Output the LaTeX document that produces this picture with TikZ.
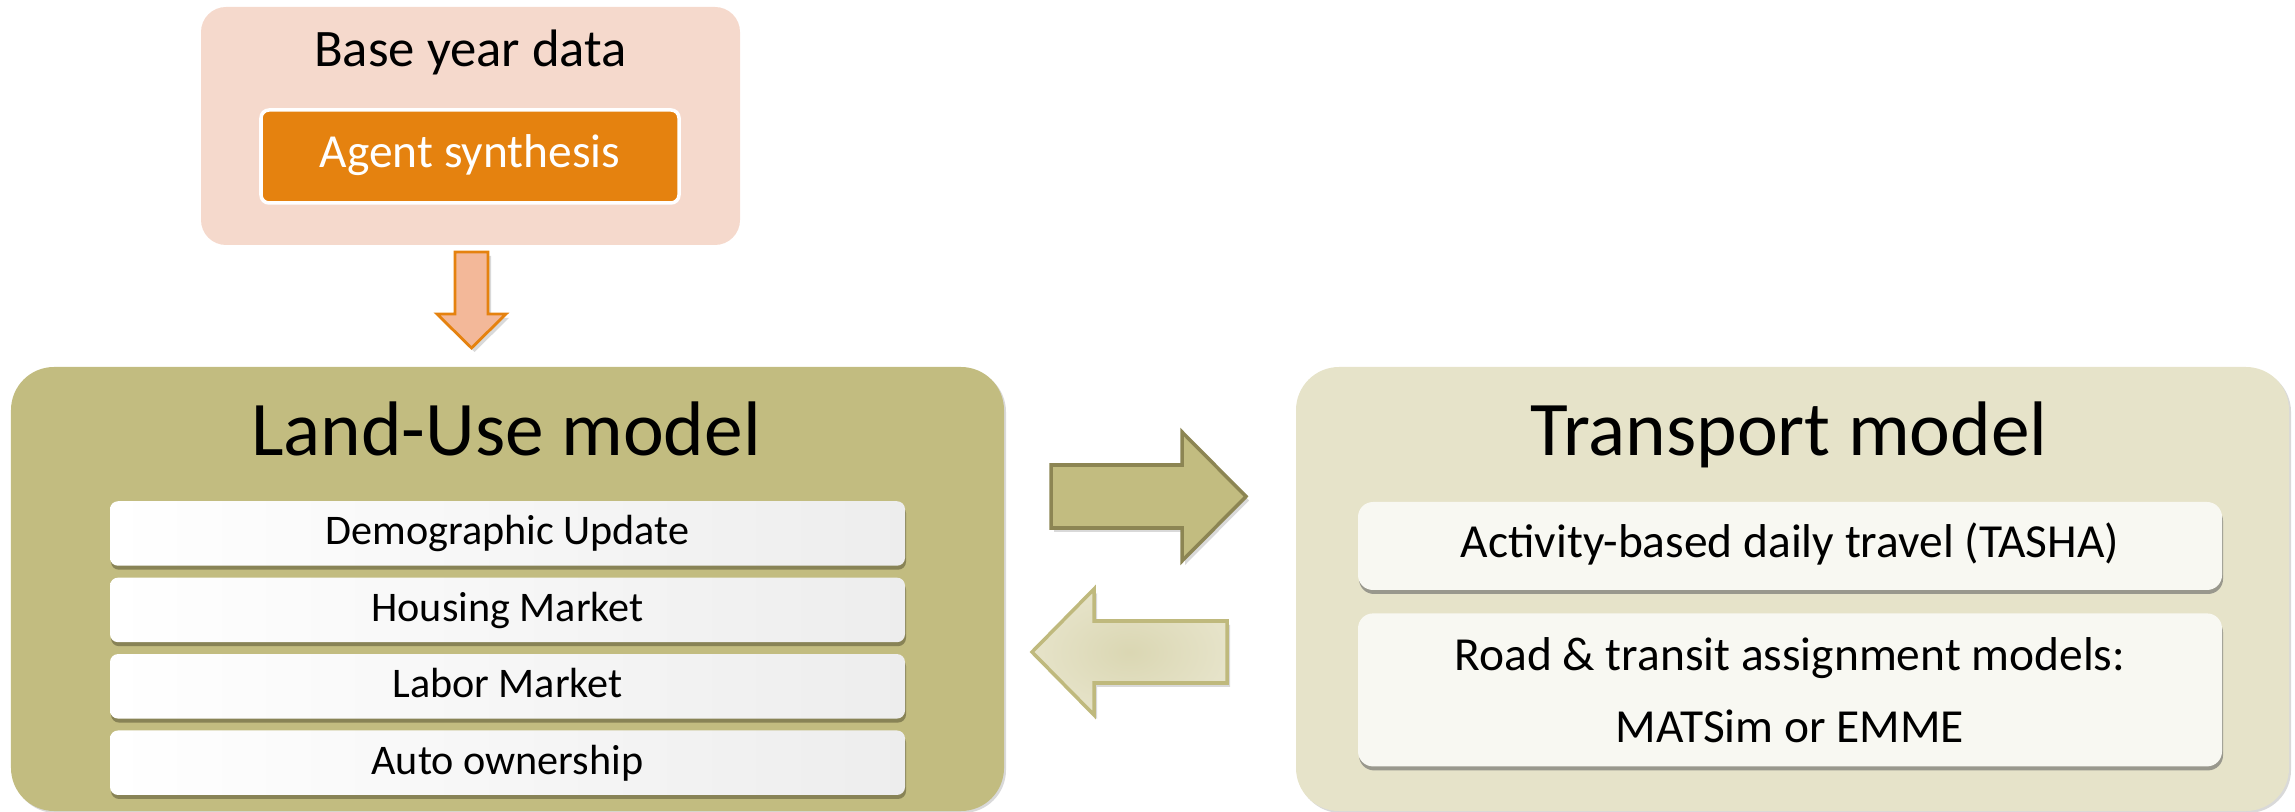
\documentclass[tikz,border=0pt]{standalone}
\usepackage{fontspec}
\setmainfont{Carlito}
\usetikzlibrary{positioning,shadows}
\definecolor{basefill}{HTML}{F5D9CC}
\definecolor{agentfill}{HTML}{E5820F}
\definecolor{downfill}{HTML}{F3B899}
\definecolor{landfill}{HTML}{C2BC80}
\definecolor{transfill}{HTML}{E6E3C9}
\definecolor{subfill}{HTML}{F8F8F2}
\definecolor{darkolive}{HTML}{8C8553}
\definecolor{paleolive}{HTML}{BFB97D}

\begin{document}
\begin{tikzpicture}[
x=1cm, y=-1cm,
bigbox/.style={
	rectangle, rounded corners=0.43cm,
	minimum width=9.93cm, minimum height=4.44cm,
	drop shadow={shadow xshift=0.02cm, shadow yshift=-0.02cm, opacity=0.3}
},
title/.style={anchor=base, font=\fontsize{22}{26}\selectfont},
lubox/.style={
	rectangle, rounded corners=0.08cm, inner sep=0pt,
	minimum width=7.95cm, minimum height=0.645cm,
	left color=white, right color=black!7,
	text height=0.644em, text depth=0pt,
	font=\fontsize{12}{14}\selectfont,
	drop shadow={shadow xshift=0.01cm, shadow yshift=-0.04cm,
		opacity=0.6, fill=darkolive!70!black}
},
tmbox/.style={
	rectangle, rounded corners=0.15cm, inner sep=0pt,
	minimum width=8.64cm, fill=subfill, align=center,
	font=\fontsize{13.5}{20.5}\selectfont,
	drop shadow={shadow xshift=0.01cm, shadow yshift=-0.04cm,
		opacity=0.6, fill=black!60}
},
blockarrow/.style={
	line width=1pt, line join=miter,
	drop shadow={shadow xshift=0.03cm, shadow yshift=-0.04cm, opacity=0.3}
}
]
\useasboundingbox (0,0) rectangle (22.95,8.12);

% base year data
\node[rectangle, rounded corners=0.25cm, fill=basefill,
	minimum width=5.39cm, minimum height=2.38cm] (base) at (4.705,1.26) {};
\node[anchor=base, font=\fontsize{15}{18}\selectfont] (basetitle) at (4.705,0.67) {Base year data};
\node[rectangle, rounded corners=0.08cm, fill=agentfill, draw=white, line width=1pt,
	minimum width=4.18cm, minimum height=0.93cm, inner sep=0pt,
	text=white, text height=0.644em, text depth=0pt,
	font=\fontsize{13.5}{16}\selectfont] (agent) at (4.70,1.565) {Agent synthesis};

% the two models
\node[bigbox, fill=landfill] (land) at (5.075,5.89) {};
\node[bigbox, fill=transfill] (trans) at (17.925,5.89) {};
\node[title] (landtitle) at (5.06,4.56) {Land-Use model};
\node[title] (transtitle) at (17.89,4.56) {Transport model};

\node[lubox] (lu1) at (5.075,5.335) {Demographic Update};
\node[lubox, below=0.105cm of lu1] (lu2) {Housing Market};
\node[lubox, below=0.105cm of lu2] (lu3) {Labor Market};
\node[lubox, below=0.105cm of lu3] (lu4) {Auto ownership};

\node[tmbox, minimum height=0.88cm, text height=0.644em, text depth=0pt] (tm1) at (17.90,5.46)
	{Activity-based daily travel (TASHA)};
\node[tmbox, minimum height=1.53cm, below=0.22cm of tm1] (tm2)
	{Road \& transit assignment models:\\MATSim or EMME};

% block arrows
\draw[blockarrow, draw=agentfill, fill=downfill, line width=0.8pt]
	(4.55,2.52) -- (4.88,2.52) -- (4.88,3.14) -- (5.06,3.14) -- (4.715,3.48)
	-- (4.37,3.14) -- (4.55,3.14) -- cycle;
\draw[blockarrow, draw=darkolive, fill=landfill]
	(10.51,4.65) -- (11.82,4.65) -- (11.82,4.32) -- (12.46,4.965)
	-- (11.82,5.61) -- (11.82,5.28) -- (10.51,5.28) -- cycle;
\draw[blockarrow, draw=paleolive, shading=radial,
	inner color=landfill!60!white, outer color=transfill]
	(12.27,6.21) -- (10.94,6.21) -- (10.94,5.89) -- (10.32,6.52)
	-- (10.94,7.15) -- (10.94,6.83) -- (12.27,6.83) -- cycle;
\end{tikzpicture}
\end{document}
